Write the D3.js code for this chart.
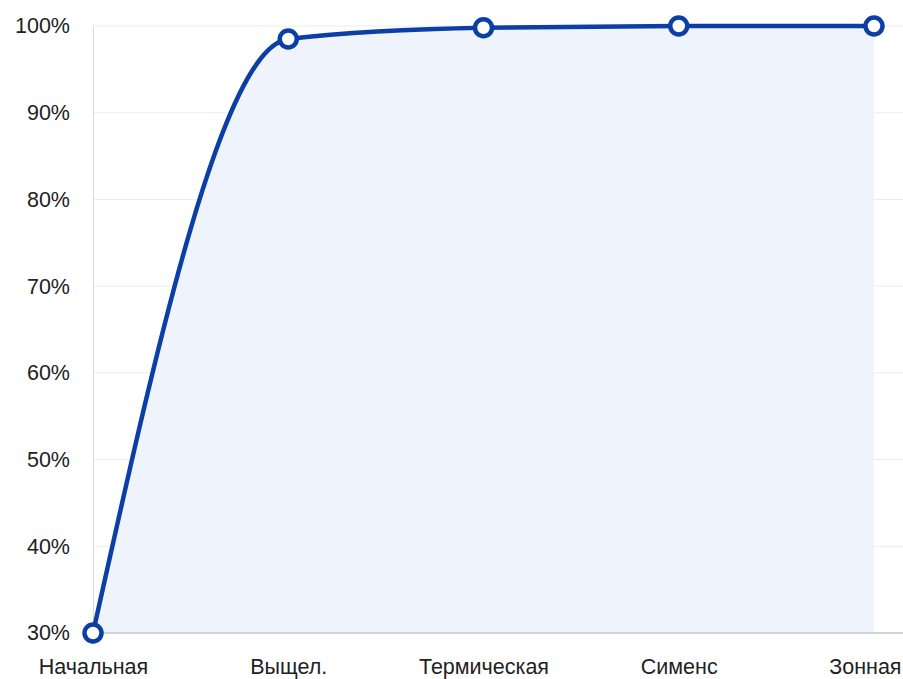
<!DOCTYPE html>
<html>
<head>
<meta charset="utf-8">
<script src="https://cdn.jsdelivr.net/npm/d3@7"></script>
<style>
  body { margin: 0; background: #fff; }
  text { font-family: "Liberation Sans", Arial, sans-serif; fill: #222; }
</style>
</head>
<body>
<div id="chart"></div>
<script>
// data
let categories = ["Начальная", "Выщел.", "Термическая", "Сименс", "Зонная"];
let values = [30, 98.5, 99.8, 100, 100];
let yTicks = [30, 40, 50, 60, 70, 80, 90, 100];

let svgWidth = 903;
let svgHeight = 679;

let margin = { top: 26, right: 29, bottom: 46, left: 93 };
let chartWidth = 874 - margin.left;
let chartHeight = svgHeight - margin.top - margin.bottom;

let svg = d3.select("#chart")
  .append("svg")
  .attr("width", svgWidth)
  .attr("height", svgHeight);

let g = svg.append("g")
  .attr("transform", `translate(${margin.left}, ${margin.top})`);

let x = d3.scalePoint()
  .domain(categories)
  .range([0, chartWidth]);

let y = d3.scaleLinear()
  .domain([30, 100])
  .range([chartHeight, 0]);

// grid lines
g.append("g")
  .selectAll("line")
  .data(yTicks)
  .enter()
  .append("line")
  .attr("x1", 0)
  .attr("x2", svgWidth - margin.left)
  .attr("y1", d => y(d))
  .attr("y2", d => y(d))
  .attr("stroke", "#ececec")
  .attr("stroke-width", 1);

// area under the line
let data = categories.map((c, i) => ({ cat: c, val: values[i] }));

let curve = d3.curveMonotoneX;

let area = d3.area()
  .x(d => x(d.cat))
  .y0(chartHeight)
  .y1(d => y(d.val))
  .curve(curve);

g.append("path")
  .datum(data)
  .attr("d", area)
  .attr("fill", "#eef3fc");

// left axis
let leftAxis = d3.axisLeft(y).tickValues(yTicks).tickFormat(d => d + "%").tickSize(0).tickPadding(23);
let la = g.append("g").call(leftAxis);
la.select(".domain").attr("stroke", "#d9d9d9");
la.selectAll("text").attr("font-size", 21.5).attr("fill", "#222");

// bottom axis
let bottomAxis = d3.axisBottom(x).tickSize(0).tickPadding(26);
let ba = g.append("g")
  .attr("transform", `translate(0, ${chartHeight})`)
  .call(bottomAxis);
ba.select(".domain").remove();
ba.append("line")
  .attr("x1", 0)
  .attr("x2", svgWidth - margin.left)
  .attr("stroke", "#c4c8cf")
  .attr("stroke-width", 1.5);
ba.selectAll("text").attr("font-size", 21.5).attr("fill", "#222");
// last label is pushed inside the right edge
ba.selectAll(".tick").filter(d => d === categories[categories.length - 1])
  .select("text")
  .attr("text-anchor", "end")
  .attr("x", svgWidth - 2 - margin.left - x(categories[categories.length - 1]));

// line
let line = d3.line()
  .x(d => x(d.cat))
  .y(d => y(d.val))
  .curve(curve);

g.append("path")
  .datum(data)
  .attr("d", line)
  .attr("fill", "none")
  .attr("stroke", "#0b3fa6")
  .attr("stroke-width", 4.5);

// points
g.append("g")
  .selectAll("circle")
  .data(data)
  .enter()
  .append("circle")
  .attr("cx", d => x(d.cat))
  .attr("cy", d => y(d.val))
  .attr("r", 8.5)
  .attr("fill", "#fff")
  .attr("stroke", "#0b3fa6")
  .attr("stroke-width", 4.5);
</script>
</body>
</html>
